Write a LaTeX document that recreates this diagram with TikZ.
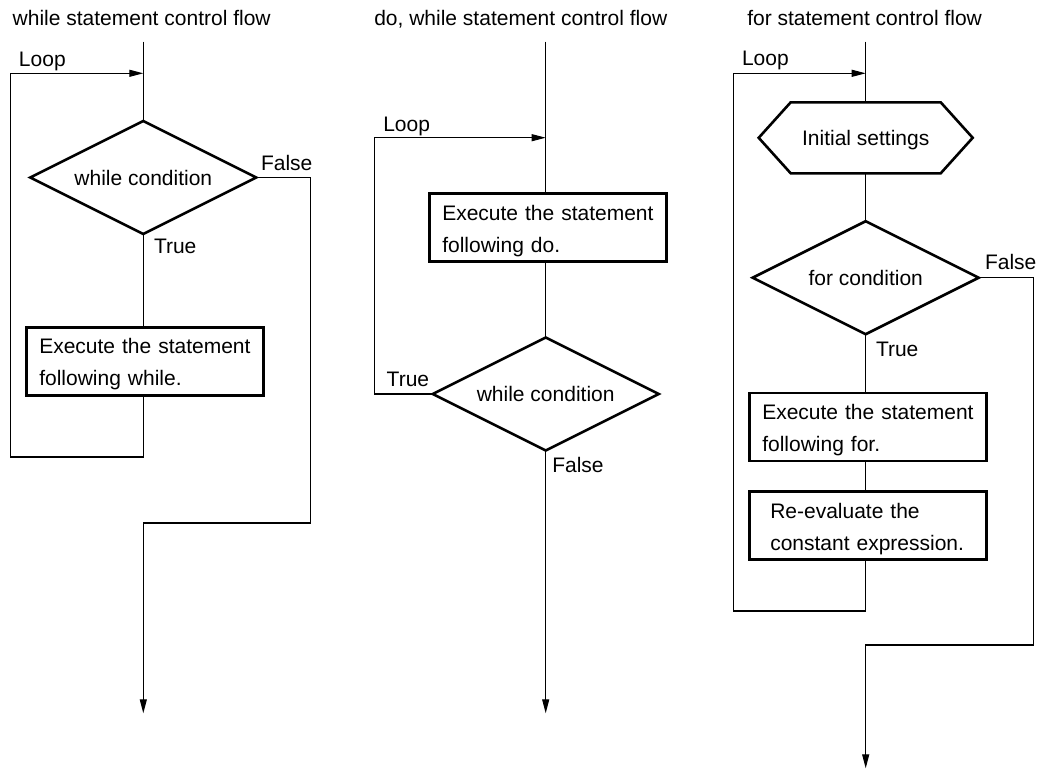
\documentclass[tikz,border=0pt]{standalone}
\usepackage{fontspec}
\setmainfont{Liberation Sans}
\usetikzlibrary{arrows.meta,shapes.geometric,calc}
\begin{document}
\begin{tikzpicture}[x=1pt,y=-1pt,
  every node/.style={font=\fontsize{21}{31.6}\selectfont, inner sep=0pt, outer sep=0pt},
  lbl/.style={anchor=base west},
  flow/.style={line width=1.1pt, draw=black},
  arr/.style={flow, -{Triangle[length=14pt,width=7pt]}},
  cond/.style={diamond, draw, line width=2.6pt, minimum width=226pt, minimum height=113pt, aspect=2},
  stmt/.style={rectangle, draw, line width=2.8pt, minimum width=237.5pt, minimum height=68pt,
    inner xsep=13pt, inner ysep=0pt, text width=211.5pt, align=left, text height=26.5pt, text depth=41.1pt},
  hexline/.style={line width=2.6pt, line join=miter},
]
\useasboundingbox (0,0) rectangle (1039,771);

% ---------------- panel 1: while ----------------
\node[lbl] (t1) at (12.7,25.7) {while statement control flow};
\coordinate (top1) at (143.3,41.7);
\node[cond] (d1) at (143.3,177.5) {while condition};
\node[stmt] (b1) at (145,361.2) {Execute the statement\\following while.};
\coordinate (m1) at (143.3,73.3);
\coordinate (l1) at (10.7,457);
\coordinate (f1) at (310.7,523);
\coordinate (e1) at (143.3,713.3);
\draw[flow] (top1) -- (d1.north);
\draw[flow] (d1.south) -- (top1 |- b1.north);
\draw[arr] (top1 |- b1.south) |- (l1) |- (m1);
\draw[arr] (d1.east) -| (f1) -| (e1);
\node[lbl] (loop1) at (19,66) {Loop};
\node[lbl] (false1) at (261,170) {False};
\node[lbl] (true1) at (154,253) {True};

% ---------------- panel 2: do while ----------------
\node[lbl] (t2) at (374.3,25.7) {do, while statement control flow};
\coordinate (top2) at (545.7,41.7);
\node[stmt] (b2) at (548,227.8) {Execute the statement\\following do.};
\node[cond] (d2) at (545.7,394) {while condition};
\coordinate (m2) at (545.7,137.7);
\coordinate (l2) at (374.3,394);
\coordinate (e2) at (545.7,713.3);
\draw[flow] (top2) -- (top2 |- b2.north);
\draw[flow] (top2 |- b2.south) -- (d2.north);
\draw[arr] (d2.west) -- (l2) |- (m2);
\draw[arr] (d2.south) -- (e2);
\node[lbl] (loop2) at (383.3,131.7) {Loop};
\node[lbl] (true2) at (386.7,386) {True};
\node[lbl] (false2) at (552.3,472.7) {False};

% ---------------- panel 3: for ----------------
\node[lbl] (t3) at (747.3,25.7) {for statement control flow};
\coordinate (top3) at (865.7,41.7);
\node[minimum width=214pt, minimum height=71pt, yshift=-2pt] (hxt) at (865.7,137.8) {Initial settings};
\node[minimum width=214pt, minimum height=71pt] (hx) at (865.7,137.8) {};
\draw[hexline] (hx.west) -- ($(hx.north west)+(32,0)$) -- ($(hx.north east)+(-32,0)$)
  -- (hx.east) -- ($(hx.south east)+(-32,0)$) -- ($(hx.south west)+(32,0)$) -- cycle;
\node[cond] (d3) at (865.7,277.7) {for condition};
\node[stmt] (b3) at (868,427) {Execute the statement\\following for.};
\node[stmt, inner xsep=21pt, text width=195.5pt] (b4) at (868,525.8) {Re-evaluate the\\constant\ expression.};
\coordinate (m3) at (865.7,73.3);
\coordinate (l3) at (733.3,611);
\coordinate (f3) at (1033.3,645);
\coordinate (e3) at (865.7,768.3);
\draw[flow] (top3) -- (hx.north);
\draw[flow] (hx.south) -- (d3.north);
\draw[flow] (d3.south) -- (top3 |- b3.north);
\draw[flow] (top3 |- b3.south) -- (top3 |- b4.north);
\draw[arr] (top3 |- b4.south) |- (l3) |- (m3);
\draw[arr] (d3.east) -| (f3) -| (e3);
\node[lbl] (loop3) at (742,65) {Loop};
\node[lbl] (false3) at (985,269.3) {False};
\node[lbl] (true3) at (876,356.7) {True};
\end{tikzpicture}
\end{document}
